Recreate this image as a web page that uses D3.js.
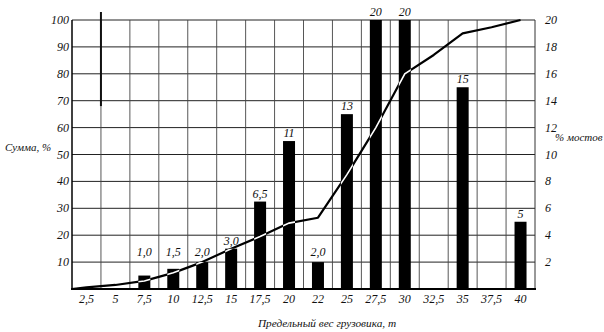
<!DOCTYPE html>
<html><head><meta charset="utf-8">
<script src="https://cdn.jsdelivr.net/npm/d3@7"></script>
<style>
body{margin:0;background:#fff}
svg{display:block}
text{font-family:"Liberation Serif","DejaVu Serif",serif;font-style:italic;fill:#111}
</style>
</head><body><svg id="c" width="604" height="332"></svg>
<script>
const categories = ["2,5","5","7,5","10","12,5","15","17,5","20","22","25","27,5","30","32,5","35","37,5","40"];
const barValues = [null,null,1.0,1.5,2.0,3.0,6.5,11,2.0,13,20,20,null,15,null,5];
const barLabels = [null,null,"1,0","1,5","2,0","3,0","6,5","11","2,0","13","20","20",null,"15",null,"5"];
const sumValues = [0.6,1.5,3,6,10,15,19.5,24.5,26.5,42.5,60,80,87,95,97.3,100];
const leftTicks = [10,20,30,40,50,60,70,80,90,100];
const rightTicks = [2,4,6,8,10,12,14,16,18,20];
const leftTitle = "Сумма, %";
const rightTitle = "% мостов";
const xTitle = "Предельный вес грузовика, т";

const svg = d3.select("#c");
const x = d3.scaleBand().domain(categories).range([72, 535]).padding(0);
const yL = d3.scaleLinear().domain([0, 100]).range([289, 20]);
const yR = d3.scaleLinear().domain([0, 20]).range([289, 20]);
const bw = 12;

// grid: horizontal
const g = svg.append("g");
g.selectAll("line.h").data(leftTicks).join("line")
  .attr("x1", 72).attr("x2", 535)
  .attr("y1", d => yL(d)).attr("y2", d => yL(d))
  .attr("stroke", "#222").attr("stroke-width", 1);
// grid: vertical at band boundaries
const bounds = categories.slice(1).map(c => x(c));
g.selectAll("line.v").data(bounds).join("line")
  .attr("x1", d => d).attr("x2", d => d)
  .attr("y1", yL(100)).attr("y2", yL(0))
  .attr("stroke", "#444").attr("stroke-width", 0.9);
// heavier segment on first boundary (as in print)
g.append("line").attr("x1", bounds[0]).attr("x2", bounds[0])
  .attr("y1", yL(100) - 8).attr("y2", yL(68))
  .attr("stroke", "#111").attr("stroke-width", 2);
// right border
g.append("line").attr("x1", 535).attr("x2", 535).attr("y1", yL(100)).attr("y2", yL(0))
  .attr("stroke", "#333").attr("stroke-width", 1);

// bars
const barData = categories.map((c, i) => ({c, v: barValues[i], l: barLabels[i]})).filter(d => d.v != null);
svg.append("g").selectAll("rect").data(barData).join("rect")
  .attr("x", d => x(d.c) + x.bandwidth()/2 - bw/2)
  .attr("width", bw)
  .attr("y", d => yR(d.v))
  .attr("height", d => yR(0) - yR(d.v))
  .attr("fill", "#000");

// clip for white part of line
const clip = svg.append("defs").append("clipPath").attr("id", "barclip");
clip.selectAll("rect").data(barData).join("rect")
  .attr("x", d => x(d.c) + x.bandwidth()/2 - bw/2)
  .attr("width", bw)
  .attr("y", d => yR(d.v))
  .attr("height", d => yR(0) - yR(d.v));

// cumulative line
const pts = [[x.range()[0], yL(0)]].concat(categories.map((c, i) => [x(c) + x.bandwidth()/2, yL(sumValues[i])]));
const line = d3.line();
svg.append("path").attr("d", line(pts)).attr("fill", "none")
  .attr("stroke", "#000").attr("stroke-width", 2.2).attr("stroke-linejoin", "round");
svg.append("path").attr("d", line(pts)).attr("fill", "none")
  .attr("stroke", "#fff").attr("stroke-width", 1.6).attr("clip-path", "url(#barclip)");

// axes lines
svg.append("line").attr("x1", 72).attr("x2", 72).attr("y1", yL(100)).attr("y2", yL(0))
  .attr("stroke", "#000").attr("stroke-width", 1.5);
svg.append("line").attr("x1", 71).attr("x2", 536).attr("y1", yL(0)).attr("y2", yL(0))
  .attr("stroke", "#000").attr("stroke-width", 1.8);

// bar labels
svg.append("g").selectAll("text").data(barData).join("text")
  .attr("x", d => x(d.c) + x.bandwidth()/2)
  .attr("y", d => Math.min(yR(d.v) - 4, yR(2.45)))
  .attr("text-anchor", "middle").attr("font-size", 12)
  .text(d => d.l);

// left ticks
svg.append("g").selectAll("text").data(leftTicks).join("text")
  .attr("x", 69).attr("y", d => yL(d) + 4)
  .attr("text-anchor", "end").attr("font-size", 12)
  .text(d => d);
// right ticks
svg.append("g").selectAll("text").data(rightTicks).join("text")
  .attr("x", 545).attr("y", d => yR(d) + 4)
  .attr("text-anchor", "start").attr("font-size", 12)
  .text(d => d);
// x ticks
svg.append("g").selectAll("text").data(categories).join("text")
  .attr("x", d => x(d) + x.bandwidth()/2).attr("y", 303)
  .attr("text-anchor", "middle").attr("font-size", 12)
  .text(d => d);

// titles
svg.append("text").attr("x", 5).attr("y", 151).attr("font-size", 11).text(leftTitle);
svg.append("text").attr("x", 555).attr("y", 141).attr("font-size", 11).text(rightTitle);
svg.append("text").attr("x", 327).attr("y", 327).attr("text-anchor", "middle").attr("font-size", 11.3).text(xTitle);
</script>
</body></html>
